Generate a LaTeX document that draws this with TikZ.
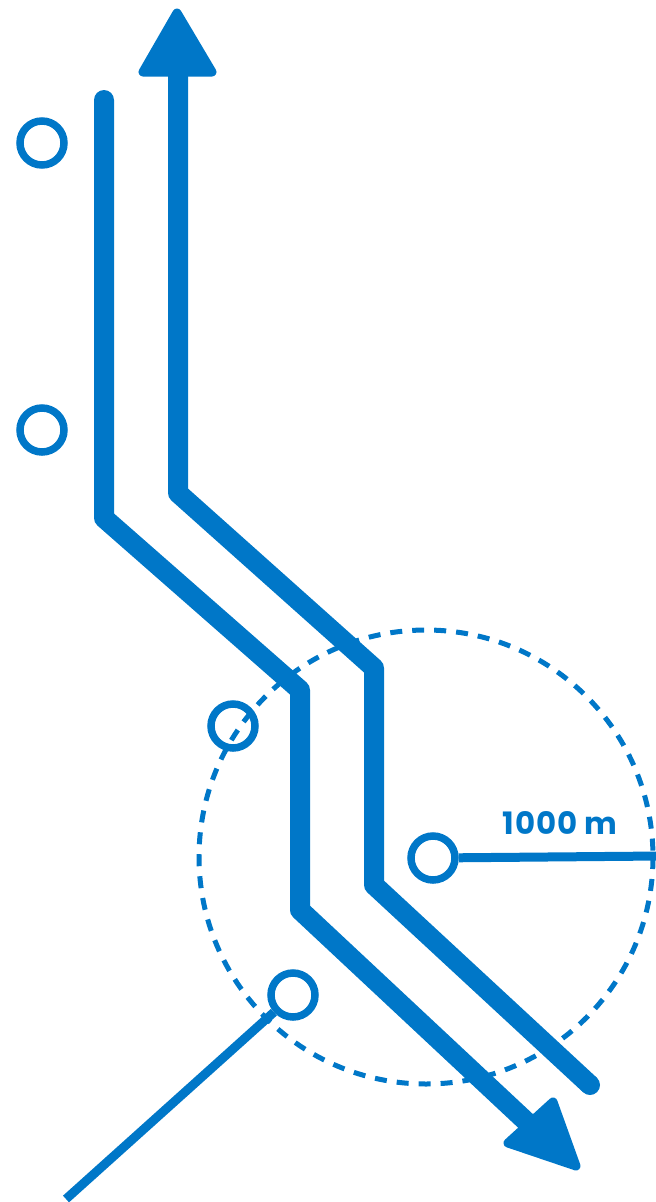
\documentclass[tikz,border=0pt]{standalone}
\usepackage{fontspec}
\newfontfamily\popfont[LetterSpace=3]{Poppins}
\definecolor{routeblue}{RGB}{0,119,200}
\begin{document}
\begin{tikzpicture}[x=1bp,y=-1bp,
  route/.style={draw=routeblue,line width=20bp,line join=round},
  tiphead/.style={fill=routeblue,draw=routeblue,line width=9bp,line join=round},
  ring/.style={circle,draw=routeblue,line width=7.5bp,minimum size=44bp,inner sep=0pt},
  leader/.style={draw=routeblue,line width=9bp},
  zone/.style={draw=routeblue,line width=5bp,dash pattern=on 12bp off 10bp}]
\useasboundingbox (0,0) rectangle (656,1202);
% zone
\coordinate (zc) at (426,857);
\draw[zone] (zc) circle[radius=227];
% left route
\coordinate (l0) at (104,100);
\coordinate (l1) at (104,518);
\coordinate (l2) at (300,690);
\coordinate (l3) at (300,910);
\coordinate (l4) at (531,1126);
\draw[route,line cap=round] (l0) -- (l1) -- (l2) -- (l3) -- (l4);
\fill[tiphead] (576,1166) -- (508,1143) -- (553,1102) -- cycle;
% right route
\coordinate (r0) at (178,68);
\coordinate (r1) at (178,493);
\coordinate (r2) at (374,668);
\coordinate (r3) at (374,885);
\coordinate (r4) at (590,1085);
\draw[route] (r0) -- (r1) -- (r2) -- (r3) -- (r4);
\fill[routeblue] (r4) circle[radius=10];
\fill[tiphead] (177,13) -- (143,72) -- (212,72) -- cycle;
% markers
\node[ring] (c1) at (42,143) {};
\node[ring] (c2) at (42,430) {};
\node[ring] (c3) at (233,726) {};
\node[ring] (c4) at (433,858) {};
\node[ring] (c5) at (293,995) {};
\coordinate (e4) at (660,856);
\coordinate (e5) at (66,1199);
\draw[leader] (c4) -- (e4);
\draw[leader] (c5) -- (e5);
\node[font=\popfont\bfseries\fontsize{31}{34}\selectfont,text=routeblue,inner sep=0pt] (lbl) at (560,823) {1000 m};
\end{tikzpicture}
\end{document}
